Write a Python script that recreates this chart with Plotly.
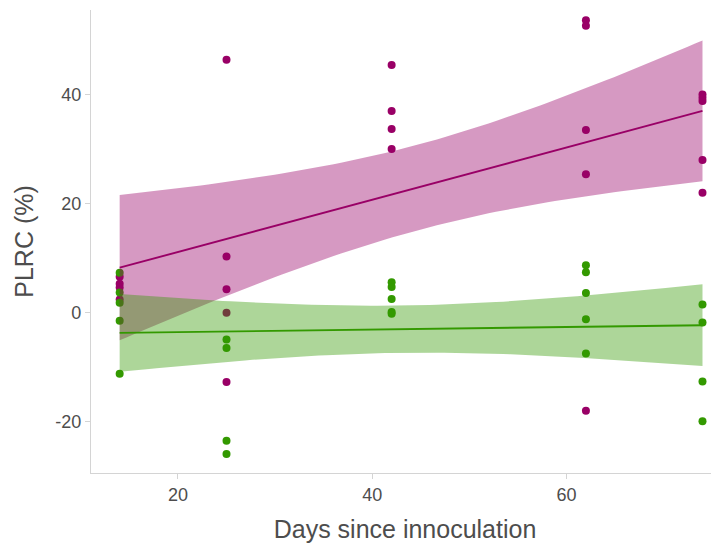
import numpy as np
import plotly.graph_objects as go

# ---- data ----
days_magenta = [14, 14, 14, 14,
                25, 25, 25, 25, 25,
                42, 42, 42, 42,
                62, 62, 62, 62, 62,
                74, 74, 74, 74, 74]
plrc_magenta = [6.6, 5.3, 4.6, 2.4,
                46.4, 10.3, 4.3, 0.0, -12.7,
                45.4, 37.0, 33.7, 30.0,
                53.6, 52.6, 33.5, 25.4, -18.0,
                40.0, 39.4, 38.8, 28.0, 22.0]

days_green = [14, 14, 14, 14, 14,
              25, 25, 25, 25,
              42, 42, 42, 42, 42,
              62, 62, 62, 62, 62,
              74, 74, 74, 74]
plrc_green = [7.3, 3.7, 1.8, -1.5, -11.2,
              -4.9, -6.5, -23.5, -25.9,
              5.6, 4.7, 2.5, 0.1, -0.2,
              8.7, 7.4, 3.6, -1.2, -7.5,
              1.5, -1.8, -12.6, -19.9]

x_ticks = [20, 40, 60]
y_ticks = [-20, 0, 20, 40]
y_tick_labels = ["-20", "0", "20", "40"]

MAGENTA = "#990066"
GREEN = "#339900"

T975 = {19: 2.093, 20: 2.086, 21: 2.080, 22: 2.074, 23: 2.069, 24: 2.064, 25: 2.060}


def lm_fit(x, y, n_out=80):
    x = np.asarray(x, float)
    y = np.asarray(y, float)
    n = len(x)
    X = np.column_stack([np.ones(n), x])
    beta, *_ = np.linalg.lstsq(X, y, rcond=None)
    resid = y - X @ beta
    df = n - 2
    s2 = resid @ resid / df
    xs = np.linspace(x.min(), x.max(), n_out)
    Xs = np.column_stack([np.ones(n_out), xs])
    cov = s2 * np.linalg.inv(X.T @ X)
    se = np.sqrt(np.einsum("ij,jk,ik->i", Xs, cov, Xs))
    fit = Xs @ beta
    t = T975.get(df, 2.07)
    return xs, fit, fit - t * se, fit + t * se


fig = go.Figure()

# points
for xd, yd, col in [(days_magenta, plrc_magenta, MAGENTA), (days_green, plrc_green, GREEN)]:
    fig.add_trace(go.Scatter(x=xd, y=yd, mode="markers",
                             marker=dict(color=col, size=8, line=dict(width=0)),
                             showlegend=False))

# ribbons and lines
fits = []
for xd, yd, col in [(days_magenta, plrc_magenta, MAGENTA), (days_green, plrc_green, GREEN)]:
    xs, fit, lo, hi = lm_fit(xd, yd)
    fits.append((xs, fit, col))
    fig.add_trace(go.Scatter(x=np.concatenate([xs, xs[::-1]]),
                             y=np.concatenate([hi, lo[::-1]]),
                             mode="lines", fill="toself",
                             fillcolor=col, opacity=0.4,
                             line=dict(width=0, color=col),
                             hoverinfo="skip", showlegend=False))
for xs, fit, col in fits:
    fig.add_trace(go.Scatter(x=xs, y=fit, mode="lines",
                             line=dict(color=col, width=1.9),
                             showlegend=False))

FONT = "Liberation Sans, Arial, sans-serif"
axis_common = dict(
    showgrid=False, zeroline=False, automargin=False,
    showline=True, linecolor="#d4d4d4", linewidth=1.2,
    ticks="outside", ticklen=5, tickcolor="#d4d4d4", tickwidth=1.2,
    tickfont=dict(family=FONT, size=18, color="#4d4d4d"),
)

fig.update_layout(
    width=711, height=536,
    margin=dict(l=83, r=0, t=2, b=71),
    plot_bgcolor="white", paper_bgcolor="white",
    showlegend=False,
    xaxis=dict(range=[11.05, 75.7], tickvals=x_ticks,
               title=dict(text="Days since innoculation", standoff=16,
                          font=dict(family=FONT, size=25, color="#4d4d4d")),
               **axis_common),
    yaxis=dict(range=[-29.4, 55.5], tickvals=y_ticks, ticktext=y_tick_labels,
               title=dict(text="PLRC (%)", standoff=14,
                          font=dict(family=FONT, size=25, color="#4d4d4d")),
               **axis_common),
)

fig.write_html("out.html")
